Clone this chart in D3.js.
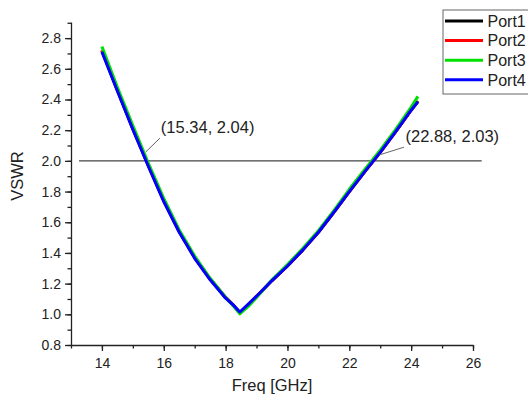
<!DOCTYPE html>
<html>
<head>
<meta charset="utf-8">
<script src="https://cdn.jsdelivr.net/npm/d3@7"></script>
<style>
  body { margin: 0; background: #fff; }
  text { font-family: Arial, "Liberation Sans", sans-serif; fill: #222; }
</style>
</head>
<body>
<div id="chart"></div>
<script>
// Data
const freq = [14.0, 14.5, 15.0, 15.5, 16.0, 16.5, 17.0, 17.5, 18.0, 18.25, 18.46, 18.75, 19.0, 19.5, 20.0, 20.5, 21.0, 21.5, 22.0, 22.5, 23.0, 23.5, 24.0, 24.22];
const port1 = [2.72, 2.46, 2.21, 1.97, 1.74, 1.54, 1.37, 1.23, 1.11, 1.06, 1.008, 1.065, 1.115, 1.22, 1.315, 1.42, 1.535, 1.665, 1.80, 1.93, 2.055, 2.19, 2.33, 2.39];
const port2 = [2.72, 2.46, 2.21, 1.97, 1.74, 1.54, 1.37, 1.23, 1.11, 1.06, 1.010, 1.066, 1.117, 1.22, 1.315, 1.42, 1.535, 1.665, 1.80, 1.93, 2.055, 2.19, 2.33, 2.39];
const port3 = [2.745, 2.48, 2.23, 1.985, 1.755, 1.55, 1.38, 1.235, 1.11, 1.055, 1.003, 1.055, 1.11, 1.225, 1.325, 1.43, 1.545, 1.675, 1.815, 1.945, 2.07, 2.205, 2.35, 2.42];
const port4 = [2.71, 2.455, 2.205, 1.965, 1.735, 1.535, 1.365, 1.225, 1.105, 1.06, 1.015, 1.07, 1.118, 1.22, 1.315, 1.42, 1.535, 1.665, 1.80, 1.93, 2.055, 2.19, 2.33, 2.385];
const seriesNames = ["Port1", "Port2", "Port3", "Port4"];
const seriesColors = ["#000000", "#ff0000", "#00e000", "#0000ff"];
const xTicks = [14, 16, 18, 20, 22, 24, 26];
const yTicks = [0.8, 1.0, 1.2, 1.4, 1.6, 1.8, 2.0, 2.2, 2.4, 2.6, 2.8];
const refLevel = 2.0;
const refSpan = [13.26, 26.28];
const markers = [{x: 15.34, y: 2.04, label: "(15.34, 2.04)"}, {x: 22.88, y: 2.03, label: "(22.88, 2.03)"}];

const W = 528, H = 396;
const margin = {top: 22, right: 55, bottom: 51, left: 71};
const width = W - margin.left - margin.right;
const height = H - margin.top - margin.bottom;

const svg = d3.select("#chart").append("svg")
    .attr("width", W).attr("height", H);
const g = svg.append("g")
    .attr("transform", `translate(${margin.left},${margin.top})`);

const x = d3.scaleLinear().domain([13, 26]).range([0, width]);
const y = d3.scaleLinear().domain([0.8, 2.905]).range([height, 0]);

// Axes with minor ticks
const xMinor = d3.range(13, 26.01, 1);
const yMinor = d3.range(0.8, 2.91, 0.1);
g.append("g").attr("transform", `translate(0,${height})`)
    .call(d3.axisBottom(x).tickValues(xMinor).tickSize(3.5).tickFormat(""))
    .call(a => a.select(".domain").remove());
g.append("g").attr("transform", `translate(0,${height})`)
    .call(d3.axisBottom(x).tickValues(xTicks).tickSize(6).tickSizeOuter(0).tickPadding(7).tickFormat(d3.format("d")))
    .call(a => a.selectAll("text").attr("font-size", 14).attr("fill", "#222"));
g.append("g")
    .call(d3.axisLeft(y).tickValues(yMinor).tickSize(3.5).tickFormat(""))
    .call(a => a.select(".domain").remove());
g.append("g")
    .call(d3.axisLeft(y).tickValues(yTicks).tickSize(6).tickSizeOuter(0).tickPadding(4).tickFormat(d3.format(".1f")))
    .call(a => a.selectAll("text").attr("font-size", 14).attr("fill", "#222"));
g.selectAll(".domain, .tick line").attr("stroke", "#222").attr("stroke-width", 1.3);

// Axis titles
svg.append("text").attr("x", margin.left + width / 2).attr("y", 391)
    .attr("text-anchor", "middle").attr("font-size", 16.5).text("Freq [GHz]");
svg.append("text").attr("transform", "translate(23,176) rotate(-90)")
    .attr("text-anchor", "middle").attr("font-size", 16.5).text("VSWR");

// Reference line at VSWR = 2
g.append("line")
    .attr("x1", x(refSpan[0])).attr("x2", x(refSpan[1]))
    .attr("y1", y(refLevel)).attr("y2", y(refLevel))
    .attr("stroke", "#444").attr("stroke-width", 1.2);

// Curves
const allSeries = [port1, port2, port3, port4];
const line = d3.line().x((d, i) => x(freq[i])).y(d => y(d));
allSeries.forEach((s, k) => {
  g.append("path").datum(s)
    .attr("fill", "none").attr("stroke", seriesColors[k])
    .attr("stroke-width", 3).attr("stroke-linejoin", "round")
    .attr("d", line);
});

// Annotations
const offsets = [
  {sx: 2.5, sy: -9, ex: 16.5, ey: -22.7, tx: 17.5, ty: -28},
  {sx: 3, sy: -6, ex: 27.5, ey: -13.7, tx: 29, ty: -19}
];
markers.forEach((m, i) => {
  const px = x(m.x), py = y(refLevel);
  const o = offsets[i];
  g.append("line")
    .attr("x1", px + o.sx).attr("y1", py + o.sy)
    .attr("x2", px + o.ex).attr("y2", py + o.ey)
    .attr("stroke", "#666").attr("stroke-width", 1);
  g.append("text").attr("x", px + o.tx).attr("y", py + o.ty)
    .attr("font-size", 16.5).text(m.label);
});

// Legend
const lg = svg.append("g").attr("transform", "translate(443,10)");
lg.append("rect").attr("width", 90).attr("height", 84)
    .attr("fill", "#fff").attr("stroke", "#666").attr("stroke-width", 1);
seriesNames.forEach((n, k) => {
  const ly = 11 + k * 19.6;
  lg.append("line").attr("x1", 2).attr("x2", 40).attr("y1", ly).attr("y2", ly)
    .attr("stroke", seriesColors[k]).attr("stroke-width", 3);
  lg.append("text").attr("x", 44.5).attr("y", ly + 5.8).attr("font-size", 16).text(n);
});
</script>
</body>
</html>
